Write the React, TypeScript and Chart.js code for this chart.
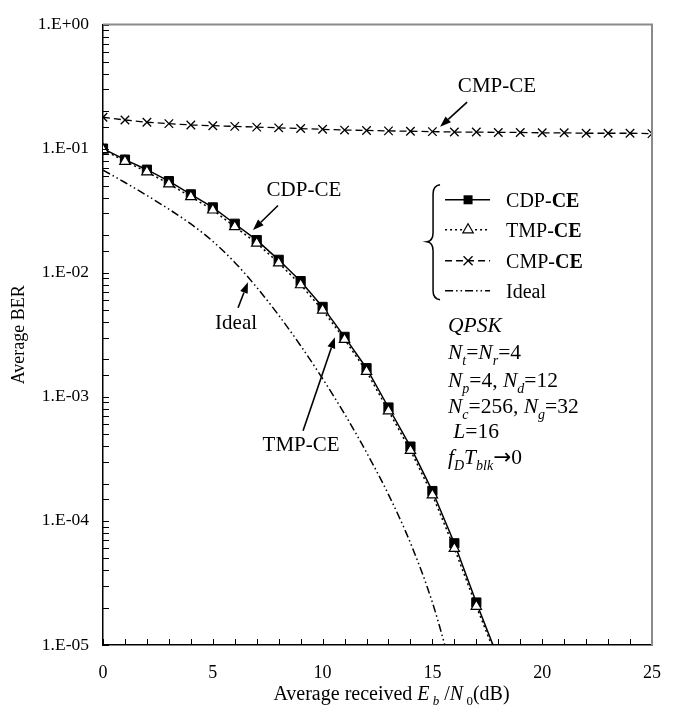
import { useEffect, useRef } from 'react';
import { Chart, registerables } from 'chart.js';

Chart.register(...registerables);

// ---------------- data ----------------
const cdpSnr = [0, 1, 2, 3, 4, 5, 6, 7, 8, 9, 10, 11, 12, 13, 14, 15, 16, 17, 18];
const cdpBer = [0.1, 0.0815, 0.0676, 0.0547, 0.0428, 0.0336, 0.0248, 0.0183, 0.0127, 0.00855, 0.0053, 0.00304, 0.0017, 8.2e-4, 3.97e-4, 1.74e-4, 6.6e-5, 2.2e-5, 7.8e-6];
const tmpSnr = [0, 1, 2, 3, 4, 5, 6, 7, 8, 9, 10, 11, 12, 13, 14, 15, 16, 17, 18];
const tmpBer = [0.098, 0.079, 0.065, 0.052, 0.041, 0.032, 0.0235, 0.0173, 0.012, 0.008, 0.005, 0.0029, 0.0016, 7.7e-4, 3.7e-4, 1.62e-4, 6.0e-5, 2.05e-5, 7.3e-6];
const cmpSnr = [0, 1, 2, 3, 4, 5, 6, 7, 8, 9, 10, 11, 12, 13, 14, 15, 16, 17, 18, 19, 20, 21, 22, 23, 24, 25];
const cmpBer = [0.179, 0.17, 0.163, 0.159, 0.155, 0.153, 0.151, 0.149, 0.147, 0.145, 0.143, 0.141, 0.14, 0.139, 0.138, 0.137, 0.136, 0.136, 0.135, 0.135, 0.134, 0.134, 0.133, 0.133, 0.133, 0.132];
const idealSnr = [0, 1, 2, 3, 4, 5, 6, 7, 8, 9, 10, 11, 12, 13, 14, 15, 16];
const idealBer = [0.0671, 0.0533, 0.0419, 0.0325, 0.0247, 0.0179, 0.0121, 0.00762, 0.00454, 0.00258, 0.0014, 7.28e-4, 3.56e-4, 1.63e-4, 6.64e-5, 2.2e-5, 5.27e-6];

const xTickLabels = [0, 5, 10, 15, 20, 25];
const yTickLabels = ['1.E-05', '1.E-04', '1.E-03', '1.E-02', '1.E-01', '1.E+00'];
const legendLabels = ['CDP-', 'TMP-', 'CMP-', 'Ideal'];

const SERIF = "'Liberation Serif', 'Times New Roman', serif";

type Seg = { t: string; i?: boolean; b?: boolean; sub?: boolean; f?: string };

function segFont(s: Seg, size: number) {
  const sz = s.sub ? Math.round(size * 0.65) : size;
  return `${s.i ? 'italic ' : ''}${s.b ? 'bold ' : ''}${sz}px ${s.f ?? SERIF}`;
}

function drawRich(ctx: CanvasRenderingContext2D, x: number, y: number, segs: Seg[], size: number, align: 'left' | 'center' = 'left') {
  ctx.textBaseline = 'alphabetic';
  ctx.textAlign = 'left';
  let total = 0;
  const widths = segs.map((s) => {
    ctx.font = segFont(s, size);
    const w = ctx.measureText(s.t).width;
    total += w;
    return w;
  });
  let cx = align === 'center' ? x - total / 2 : x;
  segs.forEach((s, k) => {
    ctx.font = segFont(s, size);
    ctx.fillText(s.t, cx, y + (s.sub ? size * 0.25 : 0));
    cx += widths[k];
  });
}

function arrow(ctx: CanvasRenderingContext2D, x1: number, y1: number, x2: number, y2: number) {
  const ang = Math.atan2(y2 - y1, x2 - x1);
  const L = 11, W = 4;
  const bx = x2 - Math.cos(ang) * L, by = y2 - Math.sin(ang) * L;
  ctx.beginPath();
  ctx.moveTo(x1, y1);
  ctx.lineTo(bx, by);
  ctx.lineWidth = 1.6;
  ctx.stroke();
  ctx.beginPath();
  ctx.moveTo(x2, y2);
  ctx.lineTo(bx + Math.sin(ang) * W, by - Math.cos(ang) * W);
  ctx.lineTo(bx - Math.sin(ang) * W, by + Math.cos(ang) * W);
  ctx.closePath();
  ctx.fill();
}

const overlay = {
  id: 'overlay',
  afterDraw(chart: any) {
    const { ctx, chartArea: a, scales } = chart;
    const xs = scales.x, ys = scales.y;
    const X = (v: number) => xs.getPixelForValue(v);
    const Y = (v: number) => ys.getPixelForValue(v);
    ctx.save();
    ctx.strokeStyle = '#000';
    ctx.fillStyle = '#000';
    ctx.setLineDash([]);
    // inward tick marks
    ctx.lineWidth = 1;
    ys.ticks.forEach((t: any) => {
      const y = Math.round(Y(t.value)) + 0.5;
      ctx.beginPath(); ctx.moveTo(a.left, y); ctx.lineTo(a.left + 6, y); ctx.stroke();
    });
    xs.ticks.forEach((t: any) => {
      const x = Math.round(X(t.value)) + 0.5;
      ctx.beginPath(); ctx.moveTo(x, a.bottom); ctx.lineTo(x, a.bottom - 6); ctx.stroke();
    });
    // top/right frame (gray)
    ctx.strokeStyle = '#8a8a8a';
    ctx.lineWidth = 2;
    ctx.beginPath(); ctx.moveTo(a.left, a.top); ctx.lineTo(a.right, a.top); ctx.lineTo(a.right, a.bottom); ctx.stroke();
    ctx.strokeStyle = '#000';

    // annotations
    const label = (t: string, x: number, y: number) => {
      ctx.textAlign = 'center'; ctx.textBaseline = 'middle'; ctx.font = `21px ${SERIF}`;
      ctx.fillText(t, x, y);
    };
    label('CMP-CE', X(17.94), Y(0.317));
    arrow(ctx, X(16.58), Y(0.2366), X(15.35), Y(0.15));
    label('CDP-CE', X(9.15), Y(0.0458));
    arrow(ctx, X(7.97), Y(0.0348), X(6.83), Y(0.0221));
    label('Ideal', X(6.06), Y(0.0039));
    arrow(ctx, X(6.15), Y(0.00522), X(6.6), Y(0.00839));
    label('TMP-CE', X(9.02), Y(4.06e-4));
    arrow(ctx, X(9.11), Y(5.33e-4), X(10.56), Y(3.02e-3));

    // parameter block
    const ix = X(15.71), iy = Y(0.00331);
    const lines: Seg[][] = [
      [{ t: 'QPSK', i: true }],
      [{ t: 'N', i: true }, { t: 't', i: true, sub: true }, { t: '=' }, { t: 'N', i: true }, { t: 'r', i: true, sub: true }, { t: '=4' }],
      [{ t: 'N', i: true }, { t: 'p', i: true, sub: true }, { t: '=4, ' }, { t: 'N', i: true }, { t: 'd', i: true, sub: true }, { t: '=12' }],
      [{ t: 'N', i: true }, { t: 'c', i: true, sub: true }, { t: '=256, ' }, { t: 'N', i: true }, { t: 'g', i: true, sub: true }, { t: '=32' }],
      [{ t: ' ' }, { t: 'L', i: true }, { t: '=16' }],
      [{ t: 'f', i: true }, { t: 'D', i: true, sub: true }, { t: 'T', i: true }, { t: 'blk', i: true, sub: true }, { t: '\u2192', f: "'DejaVu Sans', sans-serif" }, { t: '0' }],
    ];
    const offs = [0, 27, 55, 81, 106, 132];
    lines.forEach((ln, k) => drawRich(ctx, ix, iy + offs[k], ln, 21.5));

    // legend
    const lx = X(15.03), ly = Y(0.0511);
    ctx.lineWidth = 1.5;
    ctx.setLineDash([]);
    ctx.beginPath();
    ctx.moveTo(lx + 7, ly);
    ctx.quadraticCurveTo(lx, ly + 1, lx, ly + 9);
    ctx.lineTo(lx, ly + 48);
    ctx.quadraticCurveTo(lx, ly + 56, lx - 6, ly + 57);
    ctx.quadraticCurveTo(lx, ly + 58, lx, ly + 66);
    ctx.lineTo(lx, ly + 106);
    ctx.quadraticCurveTo(lx, ly + 114, lx + 7, ly + 115);
    ctx.stroke();
    const rows = [15, 45, 76, 106];
    const dashes = [[], [2, 3], [7, 4], [8, 3, 1.5, 3, 1.5, 3]];
    const l0 = lx + 12, l1 = lx + 57, mx = lx + 35;
    rows.forEach((r, k) => {
      const y = ly + r;
      ctx.setLineDash(dashes[k]);
      ctx.lineWidth = 1.5;
      ctx.beginPath(); ctx.moveTo(l0, y); ctx.lineTo(l1, y); ctx.stroke();
      ctx.setLineDash([]);
      if (k === 0) {
        ctx.fillRect(mx - 4.5, y - 4.5, 9, 9);
      } else if (k === 1) {
        ctx.beginPath();
        ctx.moveTo(mx, y - 6); ctx.lineTo(mx + 5.2, y + 3); ctx.lineTo(mx - 5.2, y + 3); ctx.closePath();
        ctx.fillStyle = '#fff'; ctx.fill(); ctx.fillStyle = '#000';
        ctx.lineWidth = 1.2; ctx.stroke();
      } else if (k === 2) {
        ctx.lineWidth = 1.3;
        ctx.beginPath();
        ctx.moveTo(mx - 4.5, y - 4.5); ctx.lineTo(mx + 4.5, y + 4.5);
        ctx.moveTo(mx + 4.5, y - 4.5); ctx.lineTo(mx - 4.5, y + 4.5);
        ctx.stroke();
      }
      const segs: Seg[] = k < 3 ? [{ t: legendLabels[k] }, { t: 'CE', b: true }] : [{ t: legendLabels[k] }];
      drawRich(ctx, lx + 73, y + 7, segs, 20);
    });

    // axis titles
    ctx.setLineDash([]);
    drawRich(ctx, (a.left + a.right) / 2 + 14, a.bottom + 55,
      [{ t: 'Average received ' }, { t: 'E', i: true }, { t: ' b', i: true, sub: true }, { t: ' /' }, { t: 'N', i: true }, { t: ' 0', sub: true }, { t: '(dB)' }], 20, 'center');
    ctx.save();
    ctx.translate(19, (a.top + a.bottom) / 2);
    ctx.rotate(-Math.PI / 2);
    ctx.textAlign = 'center';
    ctx.textBaseline = 'middle';
    ctx.font = `18px ${SERIF}`;
    ctx.fillText('Average BER', 0, 0);
    ctx.restore();
    ctx.restore();
  },
};

const pts = (xs: number[], ys: number[]) => xs.map((x, k) => ({ x, y: ys[k] }));

export default function App() {
  const ref = useRef<HTMLCanvasElement | null>(null);
  useEffect(() => {
    if (!ref.current) return;
    const chart = new Chart(ref.current, {
      type: 'line',
      data: {
        datasets: [
          {
            label: 'TMP-CE', data: pts(tmpSnr, tmpBer), order: 0,
            borderColor: '#000', borderWidth: 1.5, borderDash: [2, 3],
            pointStyle: 'triangle', pointRadius: 6, pointBackgroundColor: '#fff', pointBorderColor: '#000', pointBorderWidth: 1.2,
          },
          {
            label: 'CDP-CE', data: pts(cdpSnr, cdpBer), order: 1,
            borderColor: '#000', borderWidth: 1.5,
            pointStyle: 'rect', pointRadius: 6.5, pointBackgroundColor: '#000', pointBorderColor: '#000', pointBorderWidth: 1,
          },
          {
            label: 'CMP-CE', data: pts(cmpSnr, cmpBer), order: 2,
            borderColor: '#000', borderWidth: 1.3, borderDash: [7, 4],
            pointStyle: 'crossRot', pointRadius: 6, pointBorderColor: '#000', pointBorderWidth: 1.3,
          },
          {
            label: 'Ideal', data: pts(idealSnr, idealBer), order: 3,
            borderColor: '#000', borderWidth: 1.5, borderDash: [8, 3, 1.5, 3, 1.5, 3],
            pointRadius: 0, cubicInterpolationMode: 'monotone',
          },
        ] as any,
      },
      options: {
        animation: false,
        responsive: false,
        maintainAspectRatio: false,
        events: [],
        layout: { padding: { left: 0, right: 28, top: 14, bottom: 0 } },
        scales: {
          x: {
            type: 'linear', min: 0, max: 25,
            grid: { display: false, drawTicks: false },
            border: { color: '#000', width: 1.5 },
            ticks: {
              stepSize: 1, autoSkip: false, maxRotation: 0, padding: 17, color: '#000',
              font: { family: SERIF, size: 18 },
              callback: (v: any) => (xTickLabels.includes(Number(v)) ? String(v) : ''),
            },
            afterFit: (s: any) => { s.height = 70; },
          },
          y: {
            type: 'logarithmic', min: 1e-5, max: 1,
            grid: { display: false, drawTicks: false },
            border: { color: '#000', width: 1.5 },
            ticks: {
              autoSkip: false, padding: 14, color: '#000',
              font: { family: SERIF, size: 17.5 },
              callback: (v: any) => {
                const e = Math.log10(Number(v));
                if (Math.abs(e - Math.round(e)) > 1e-6) return '';
                return yTickLabels[Math.round(e) + 5] ?? '';
              },
            },
            afterFit: (s: any) => { s.width = 103; },
          },
        },
        plugins: { legend: { display: false }, tooltip: { enabled: false } },
      } as any,
      plugins: [overlay],
    });
    return () => chart.destroy();
  }, []);
  return (
    <div style={{ position: 'absolute', left: 0, top: 0, width: 680, height: 715, background: '#fff' }}>
      <canvas ref={ref} width={680} height={715} style={{ display: 'block', width: 680, height: 715 }} />
    </div>
  );
}
